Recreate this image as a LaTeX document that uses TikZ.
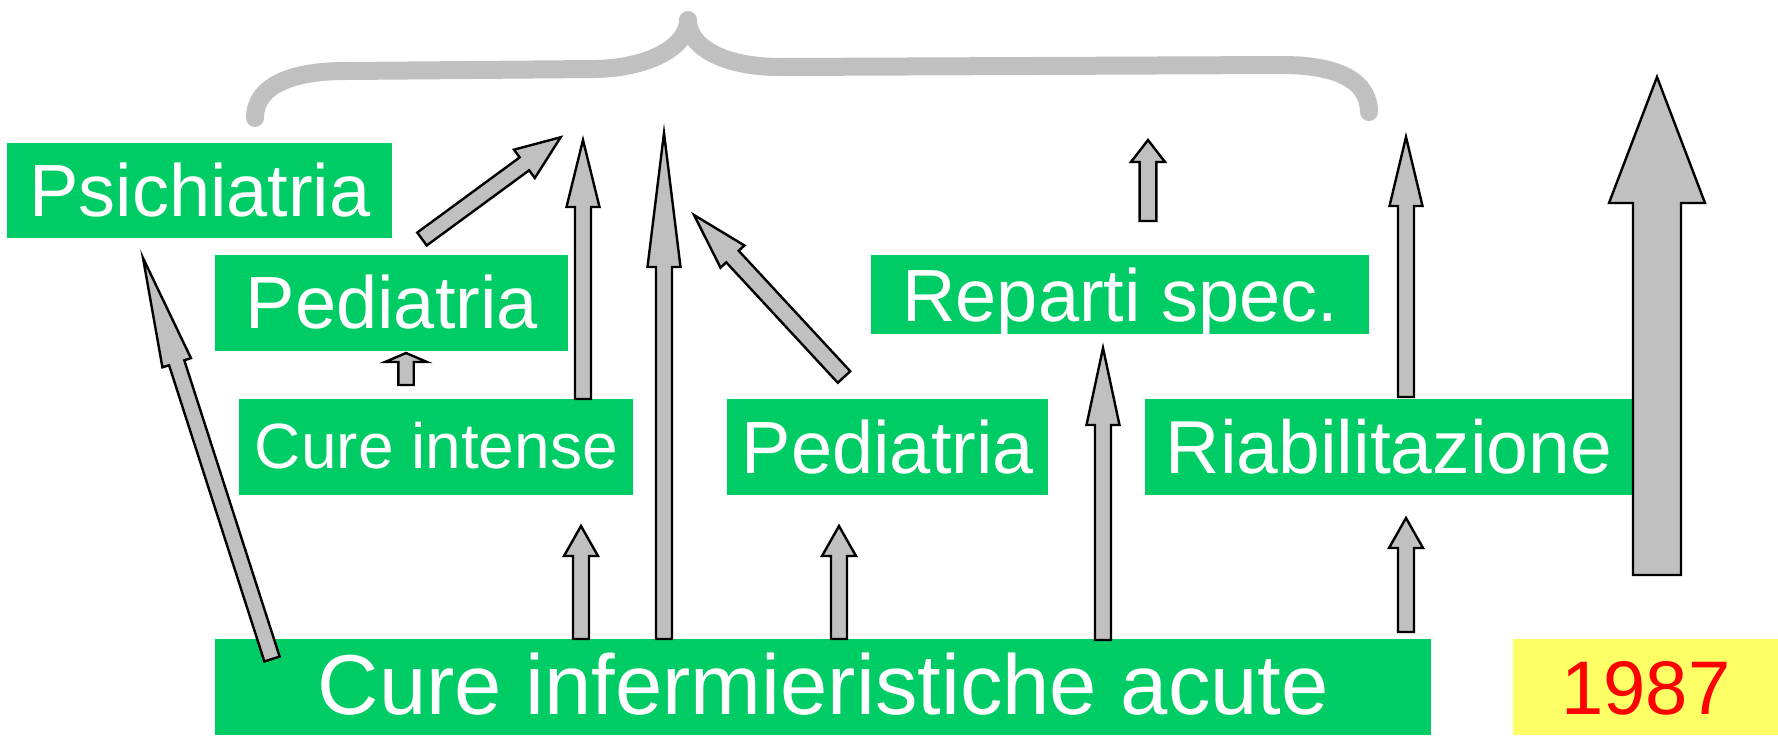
\documentclass[tikz,border=0pt]{standalone}
\usepackage{fontspec}
\setmainfont{Liberation Sans}

\definecolor{ocgreen}{HTML}{00CC66}
\definecolor{ocyellow}{HTML}{FFFF66}
\definecolor{ocgray}{HTML}{C0C0C0}

\tikzset{
  box/.style={fill=ocgreen, text=white, inner sep=0pt, anchor=north west},
  arrowbody/.style={draw=black, fill=ocgray, line width=1.2pt, line join=miter},
  brace/.style={draw=ocgray, line width=9pt, line cap=round, line join=round}
}

\newcommand{\fs}[1]{\fontsize{#1}{#1}\selectfont}

% block arrow: tail, tip, shaft half width, head half width, head length (pt)
\newcommand{\blockarrow}[5]{%
  \pgfpointdiff{\pgfpointanchor{#1}{center}}{\pgfpointanchor{#2}{center}}%
  \pgfgetlastxy{\badx}{\bady}%
  \pgfmathsetmacro{\baang}{atan2(\bady,\badx)}%
  \pgfmathsetmacro{\balen}{veclen(\badx,\bady)}%
  \draw[arrowbody, shift={(#1)}, rotate=\baang]
    (0pt,-#3pt) -- ({\balen pt-#5pt},-#3pt) -- ({\balen pt-#5pt},-#4pt)
    -- (\balen pt,0pt) -- ({\balen pt-#5pt},#4pt) -- ({\balen pt-#5pt},#3pt)
    -- (0pt,#3pt) -- cycle;
}

\begin{document}
\begin{tikzpicture}[x=0.5pt,y=-0.5pt]
	\useasboundingbox (0,0) rectangle (1778,735);

	% boxes
	\node[box, minimum width=192.5pt, text height=36.5pt, text depth=11pt, font=\fs{37pt}] (psi) at (7,143) {Psichiatria};
	\node[box, minimum width=176.5pt, text height=36.5pt, text depth=11.5pt, font=\fs{37pt}] (pedL) at (215,255) {Pediatria};
	\node[box, minimum width=197pt, text height=34.5pt, text depth=13.5pt, font=\fs{32pt}] (cint) at (239,399) {Cure intense};
	\node[box, minimum width=160.5pt, text height=37pt, text depth=11pt, font=\fs{37pt}] (pedM) at (727,399) {Pediatria};
	\node[box, minimum width=249pt, text height=33pt, text depth=6.5pt, font=\fs{37pt}] (rep) at (871,255) {Reparti spec.};
	\node[box, minimum width=243.5pt, text height=37pt, text depth=11pt, font=\fs{37.5pt}] (riab) at (1145,399) {Riabilitazione};
	\node[box, minimum width=608pt, text height=37.5pt, text depth=10.5pt, font=\fs{42.5pt}] (cia) at (215,639) {Cure infermieristiche acute};
	\node[box, fill=ocyellow, text=red, minimum width=132.5pt, text height=37.5pt, text depth=10.5pt, font=\fs{38pt}] (year) at (1513,639) {1987};

	% brace
	\draw[brace] (255,118) .. controls (255,84) and (295,71) .. (345,71) -- (595,69)
		.. controls (650,68) and (688,46) .. (688,20)
		.. controls (688,46) and (722,67) .. (780,67) -- (1282,65)
		.. controls (1340,65) and (1369,82) .. (1369,112);

	% arrow ends
	\coordinate (psi-s) at (272,659);   \coordinate (psi-e) at (143,258);
	\coordinate (pedL-s) at (422,239);  \coordinate (pedL-e) at (561,137);
	\coordinate (cint-s) at (583,399);  \coordinate (cint-e) at (583,140);
	\coordinate (tall-s) at (664,639);  \coordinate (tall-e) at (664,133);
	\coordinate (pedM-s) at (844,377);  \coordinate (pedM-e) at (694,215);
	\coordinate (small-s) at (406,385); \coordinate (small-e) at (406,353);
	\coordinate (ci1-s) at (581,639);   \coordinate (ci1-e) at (581,526);
	\coordinate (ci2-s) at (839,639);   \coordinate (ci2-e) at (839,526);
	\coordinate (rep-s) at (1148,221);  \coordinate (rep-e) at (1148,140);
	\coordinate (ci3-s) at (1103,640);  \coordinate (ci3-e) at (1103,348);
	\coordinate (riab-s) at (1406,397); \coordinate (riab-e) at (1406,137);
	\coordinate (ci4-s) at (1406,632);  \coordinate (ci4-e) at (1406,518);
	\coordinate (big-s) at (1657,575);  \coordinate (big-e) at (1657,77);

	% arrows
	\blockarrow{psi-s}{psi-e}{4}{7.5}{55}
	\blockarrow{pedL-s}{pedL-e}{4}{8.8}{22.5}
	\blockarrow{cint-s}{cint-e}{4}{8.25}{33.5}
	\blockarrow{tall-s}{tall-e}{4}{8.25}{67}
	\blockarrow{pedM-s}{pedM-e}{4.25}{8.15}{28.3}
	\blockarrow{small-s}{small-e}{3.85}{10.5}{4.5}
	\blockarrow{ci1-s}{ci1-e}{4}{8.5}{15}
	\blockarrow{ci2-s}{ci2-e}{4}{8.5}{15}
	\blockarrow{rep-s}{rep-e}{4.2}{8.5}{11}
	\blockarrow{ci3-s}{ci3-e}{4}{8.25}{38.5}
	\blockarrow{riab-s}{riab-e}{4}{8.25}{34.5}
	\blockarrow{ci4-s}{ci4-e}{4}{8.5}{15}
	\blockarrow{big-s}{big-e}{12}{24}{63}
\end{tikzpicture}
\end{document}
